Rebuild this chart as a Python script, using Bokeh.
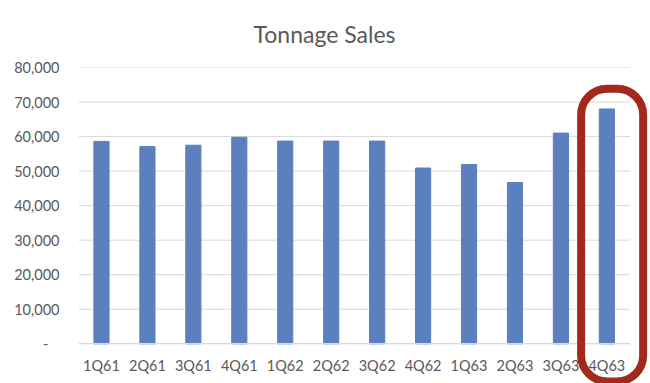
from bokeh.plotting import figure
from bokeh.models import ColumnDataSource, Range1d, FixedTicker, NumeralTickFormatter, BoxAnnotation, Title
from bokeh.embed import file_html
from bokeh.resources import INLINE

quarters = ["1Q61", "2Q61", "3Q61", "4Q61", "1Q62", "2Q62", "3Q62", "4Q62", "1Q63", "2Q63", "3Q63", "4Q63"]
tonnage = [58600, 57100, 57500, 59800, 58700, 58700, 58700, 50900, 51900, 46700, 61000, 68000]
y_ticks = [0, 10000, 20000, 30000, 40000, 50000, 60000, 70000, 80000]

idx = list(range(len(quarters)))
src = ColumnDataSource(data=dict(x=idx, q=quarters, v=tonnage))
n = len(quarters)

FONT = "Lato"
GREY = "#595959"

p = figure(width=650, height=383, frame_width=572, frame_height=316,
           output_backend="svg", toolbar_location=None,
           x_range=Range1d(-0.5, n - 0.05), y_range=Range1d(-11500, y_ticks[-1]),
           min_border_left=78, min_border_right=0, min_border_top=67, min_border_bottom=0)
p.outline_line_color = None
p.background_fill_color = "white"
p.border_fill_color = "white"

t = Title(text="Tonnage Sales", align="left", vertical_align="top", text_font=FONT,
          text_font_size="23px", text_font_style="normal", text_color=GREY,
          offset=175, standoff=35)
p.add_layout(t, "above")

# gridlines limited to the category span
p.grid.grid_line_color = None
p.segment(x0=[-0.5] * len(y_ticks), x1=[n - 0.5] * len(y_ticks), y0=y_ticks, y1=y_ticks,
          line_color="#d9d9d9", line_width=1)

p.vbar(x="x", top="v", width=0.33, source=src, fill_color="#5B80BD", line_color="#5B80BD")

# x axis sits on the zero line
p.xaxis.fixed_location = 0
p.xaxis.bounds = (-0.5, n - 0.5)
p.xaxis.ticker = FixedTicker(ticks=idx)
p.xaxis.major_label_overrides = {i: q for i, q in zip(idx, quarters)}
p.xaxis.axis_line_color = "#d9d9d9"
p.xaxis.major_tick_line_color = None
p.xaxis.major_tick_out = 0
p.xaxis.major_tick_in = 0
p.xaxis.minor_tick_line_color = None
p.xaxis.major_label_text_font = FONT
p.xaxis.major_label_text_font_size = "14.5px"
p.xaxis.major_label_text_color = GREY
p.xaxis.major_label_standoff = 13

# y axis
p.yaxis.ticker = FixedTicker(ticks=y_ticks)
p.yaxis.formatter = NumeralTickFormatter(format="0,0")
p.yaxis.major_label_overrides = {0: "-\u00a0\u00a0\u00a0"}
p.yaxis.axis_line_color = None
p.yaxis.major_tick_line_color = None
p.yaxis.major_tick_out = 0
p.yaxis.major_tick_in = 0
p.yaxis.minor_tick_line_color = None
p.yaxis.major_label_text_font = FONT
p.yaxis.major_label_text_font_size = "14.5px"
p.yaxis.major_label_text_color = GREY
p.yaxis.major_label_standoff = 19

# hand-drawn highlight around the last quarter
last = idx[-1]
ring = BoxAnnotation(left=last - 0.56, right=last + 0.79, top=tonnage[-1] + 5850, bottom=-10900,
                     fill_color=None, fill_alpha=0, line_color="#A3291A", line_alpha=1.0,
                     line_width=8, border_radius=26, level="overlay")
p.add_layout(ring)

open("out.html", "w").write(file_html(p, INLINE))
